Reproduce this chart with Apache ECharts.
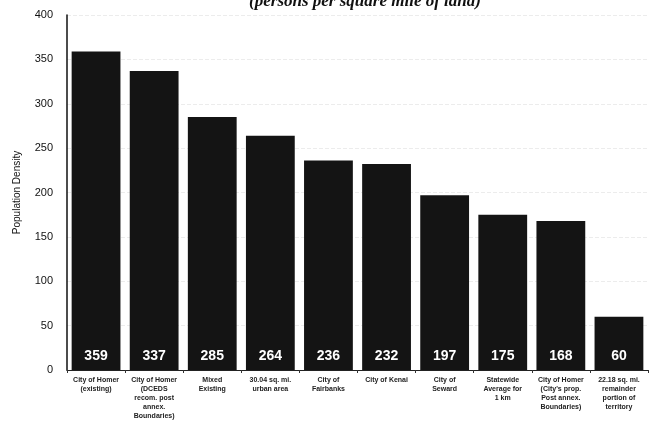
<!DOCTYPE html>
<html>
<head>
<meta charset="utf-8">
<script src="https://cdn.jsdelivr.net/npm/echarts@6/dist/echarts.min.js"></script>
<style>
  html, body { margin: 0; padding: 0; background: #fff; }
  #chart { width: 651px; height: 435px; }
</style>
</head>
<body>
<div id="chart"></div>
<script>
var categories = [
    'City of Homer\n(existing)',
    'City of Homer\n(DCEDS\nrecom. post\nannex.\nBoundaries)',
    'Mixed\nExisting',
    '30.04 sq. mi.\nurban area',
    'City of\nFairbanks',
    'City of Kenai',
    'City of\nSeward',
    'Statewide\nAverage for\n1 km',
    'City of Homer\n(City\'s prop.\nPost annex.\nBoundaries)',
    '22.18 sq. mi.\nremainder\nportion of\nterritory'
];
var densityValues = [359, 337, 285, 264, 236, 232, 197, 175, 168, 60];
var yTicks = [0, 50, 100, 150, 200, 250, 300, 350, 400];

var myChart = echarts.init(document.getElementById('chart'));
var option = {
    animation: false,
    backgroundColor: '#fff',
    title: {
        text: '(persons per square mile of land)',
        left: 360,
        textAlign: 'center',
        top: -12,
        textStyle: {
            fontFamily: 'Liberation Serif',
            fontStyle: 'italic',
            fontWeight: 'bold',
            fontSize: 17,
            color: '#111'
        }
    },
    grid: {
        left: 67,
        right: 3,
        top: 15,
        bottom: 65
    },
    xAxis: {
        type: 'category',
        data: categories,
        axisLine: { lineStyle: { color: '#222', width: 1 } },
        axisTick: { show: true, length: 3, lineStyle: { color: '#333' } },
        axisLabel: {
            interval: 0,
            fontFamily: 'Liberation Sans',
            fontSize: 7,
            fontWeight: 'bold',
            color: '#222',
            lineHeight: 9,
            margin: 6
        }
    },
    yAxis: {
        type: 'value',
        min: 0,
        max: 400,
        interval: 50,
        name: 'Population Density',
        nameLocation: 'middle',
        nameGap: 45,
        nameTextStyle: {
            fontFamily: 'Liberation Sans',
            fontSize: 10,
            color: '#111'
        },
        axisLine: { show: true, lineStyle: { color: '#111', width: 1.5 } },
        axisTick: { show: false },
        axisLabel: {
            fontFamily: 'Liberation Sans',
            fontSize: 11,
            color: '#111',
            margin: 14,
            formatter: function (v) {
                return yTicks.indexOf(v) >= 0 ? String(v) : '';
            }
        },
        splitLine: {
            show: true,
            lineStyle: { color: '#ececec', type: 'dashed', width: 1 }
        }
    },
    series: [
        {
            type: 'bar',
            data: densityValues,
            barCategoryGap: '16%',
            itemStyle: { color: '#141414' },
            label: {
                show: true,
                position: 'insideBottom',
                distance: 7,
                color: '#fff',
                fontFamily: 'Liberation Sans',
                fontWeight: 'bold',
                fontSize: 14
            }
        }
    ]
};
myChart.setOption(option);
</script>
</body>
</html>
